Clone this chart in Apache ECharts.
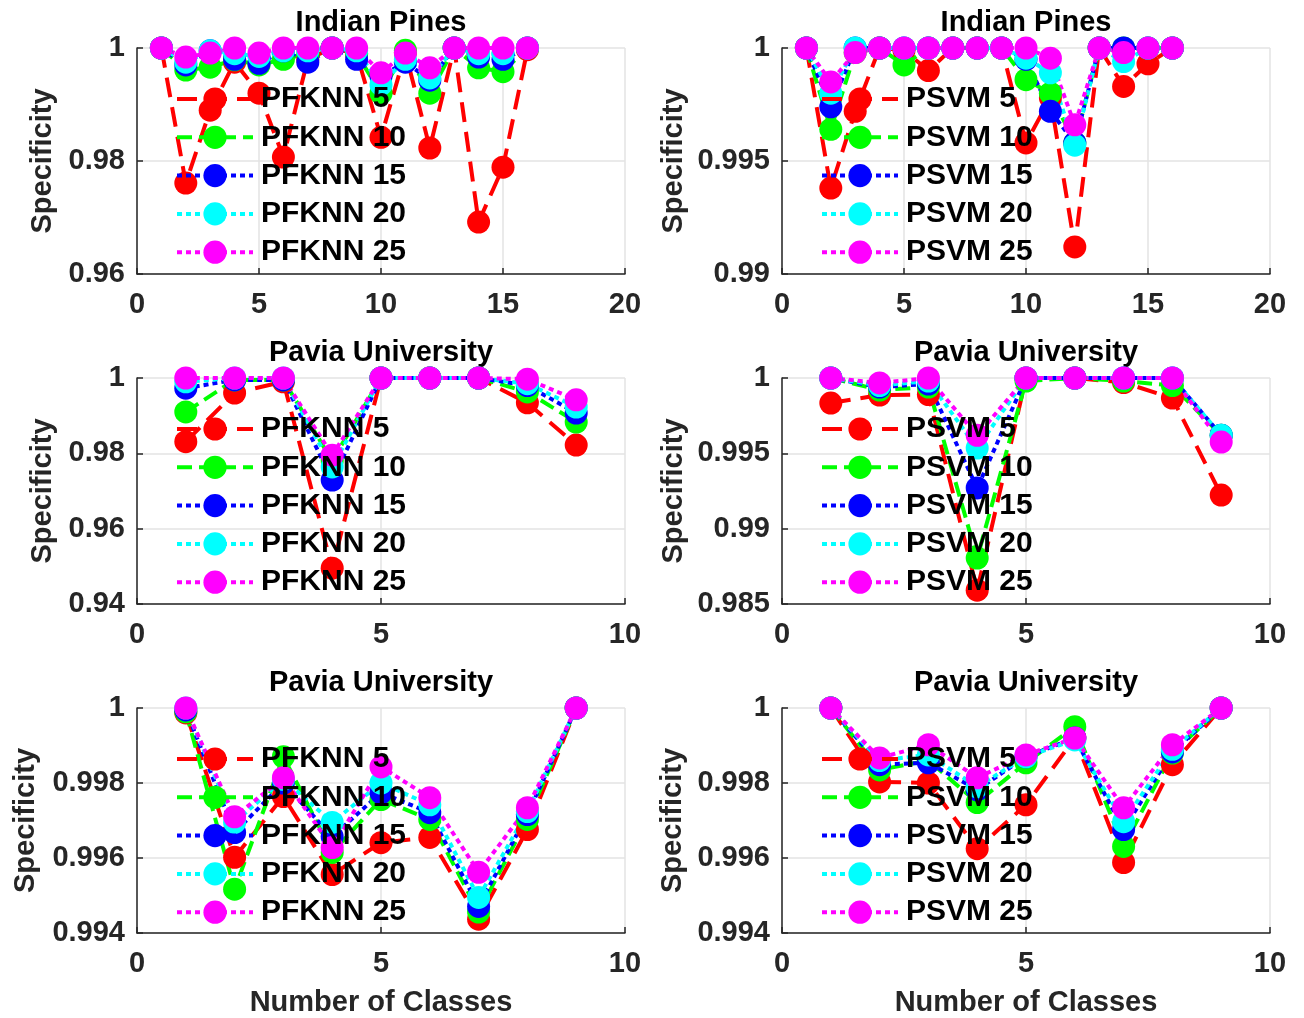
<!DOCTYPE html>
<html>
<head>
<meta charset="utf-8">
<script src="https://cdn.jsdelivr.net/npm/echarts@6/dist/echarts.min.js"></script>
<style>
  html, body { margin: 0; padding: 0; background: #fff; }
  #main { width: 1304px; height: 1018px; }
</style>
</head>
<body>
<div id="main"></div>
<script>
// x positions (number of classes)
const xIndian = [1, 2, 3, 4, 5, 6, 7, 8, 9, 10, 11, 12, 13, 14, 15, 16];
const xPavia = [1, 2, 3, 4, 5, 6, 7, 8, 9];

const knnNames = ['PFKNN 5', 'PFKNN 10', 'PFKNN 15', 'PFKNN 20', 'PFKNN 25'];
const svmNames = ['PSVM 5', 'PSVM 10', 'PSVM 15', 'PSVM 20', 'PSVM 25'];

// Indian Pines, PFKNN
const ipKnn5 = [1.0, 0.9761, 0.989, 0.9975, 0.992, 0.9807, 0.998, 1.0, 0.999, 0.9842, 0.9992, 0.9823, 1.0, 0.9692, 0.9789, 0.9997];
const ipKnn10 = [1.0, 0.9961, 0.9966, 0.9979, 0.997, 0.998, 0.999, 1.0, 0.999, 0.992, 0.9996, 0.992, 1.0, 0.9965, 0.9958, 1.0];
const ipKnn15 = [1.0, 0.997, 0.9995, 0.998, 0.9973, 0.9995, 0.9975, 1.0, 0.998, 0.995, 0.9975, 0.9943, 1.0, 0.9984, 0.998, 1.0];
const ipKnn20 = [1.0, 0.9975, 0.9995, 0.999, 0.9985, 0.9995, 0.9995, 1.0, 0.9995, 0.9935, 0.998, 0.9947, 1.0, 0.999, 0.999, 1.0];
const ipKnn25 = [1.0, 0.9984, 0.9991, 1.0, 0.9991, 1.0, 1.0, 1.0, 1.0, 0.9956, 0.9991, 0.9965, 1.0, 1.0, 1.0, 1.0];

// Indian Pines, PSVM
const ipSvm5 = [1.0, 0.9938, 0.9972, 1.0, 0.9999, 0.999, 1.0, 1.0, 1.0, 0.9958, 0.9978, 0.9912, 1.0, 0.9983, 0.9993, 1.0];
const ipSvm10 = [1.0, 0.9964, 0.9998, 1.0, 0.99925, 1.0, 1.0, 1.0, 1.0, 0.9986, 0.998, 0.9958, 1.0, 1.0, 1.0, 1.0];
const ipSvm15 = [1.0, 0.9974, 1.0, 1.0, 1.0, 1.0, 1.0, 1.0, 1.0, 0.9995, 0.9972, 0.9958, 1.0, 1.0, 1.0, 1.0];
const ipSvm20 = [1.0, 0.998, 1.0, 1.0, 1.0, 1.0, 1.0, 1.0, 1.0, 0.99955, 0.9989, 0.9957, 1.0, 0.9994, 1.0, 1.0];
const ipSvm25 = [1.0, 0.9985, 0.9998, 1.0, 1.0, 1.0, 1.0, 1.0, 1.0, 1.0, 0.99955, 0.9966, 1.0, 0.9998, 1.0, 1.0];

// Pavia University (middle row), PFKNN
const puKnn5 = [0.9831, 0.996, 0.999, 0.9495, 1.0, 1.0, 1.0, 0.9934, 0.9822];
const puKnn10 = [0.991, 0.9995, 0.9995, 0.978, 1.0, 1.0, 1.0, 0.9963, 0.9883];
const puKnn15 = [0.9973, 0.9995, 0.9995, 0.9729, 1.0, 1.0, 1.0, 0.998, 0.9907];
const puKnn20 = [0.999, 1.0, 1.0, 0.9764, 1.0, 1.0, 1.0, 0.9985, 0.9923];
const puKnn25 = [1.0, 1.0, 1.0, 0.9795, 1.0, 1.0, 1.0, 0.9997, 0.9942];

// Pavia University (middle row), PSVM
const puSvm5 = [0.99834, 0.99887, 0.9989, 0.98592, 1.0, 1.0, 0.9997, 0.99867, 0.99223];
const puSvm10 = [1.0, 0.9992, 0.9994, 0.98805, 0.9998, 1.0, 0.9998, 0.9995, 0.9962];
const puSvm15 = [1.0, 0.9994, 0.9996, 0.9927, 1.0, 1.0, 1.0, 1.0, 0.9962];
const puSvm20 = [1.0, 0.9995, 0.9998, 0.99535, 1.0, 1.0, 1.0, 1.0, 0.9962];
const puSvm25 = [1.0, 0.99967, 1.0, 0.9962, 1.0, 1.0, 1.0, 1.0, 0.99575];

// Pavia University (bottom row), PFKNN
const pu2Knn5 = [0.99987, 0.99602, 0.99764, 0.99556, 0.99641, 0.99655, 0.99437, 0.99676, 1.0];
const pu2Knn10 = [0.9999, 0.99517, 0.9987, 0.99615, 0.99756, 0.99703, 0.99456, 0.99703, 1.0];
const pu2Knn15 = [0.99995, 0.99668, 0.998, 0.99657, 0.99774, 0.99721, 0.99471, 0.99716, 1.0];
const pu2Knn20 = [1.0, 0.99695, 0.9981, 0.99695, 0.998, 0.99742, 0.99495, 0.99724, 1.0];
const pu2Knn25 = [1.0, 0.9971, 0.99814, 0.99628, 0.99843, 0.99761, 0.99562, 0.99734, 1.0];

// Pavia University (bottom row), PSVM
const pu2Svm5 = [1.0, 0.99803, 0.998, 0.99625, 0.99742, 0.9992, 0.99588, 0.99849, 1.0];
const pu2Svm10 = [1.0, 0.99835, 0.9986, 0.99748, 0.99854, 0.9995, 0.99631, 0.9988, 1.0];
const pu2Svm15 = [1.0, 0.99849, 0.99854, 0.99782, 0.9987, 0.9992, 0.99676, 0.99883, 1.0];
const pu2Svm20 = [1.0, 0.9986, 0.99875, 0.9979, 0.9987, 0.99915, 0.99697, 0.9989, 1.0];
const pu2Svm25 = [1.0, 0.99867, 0.99902, 0.99814, 0.99875, 0.9992, 0.99734, 0.99902, 1.0];

const colors = ['#ff0000', '#00ff00', '#0000ff', '#00ffff', '#ff00ff'];
const dashes = [[20, 10], [15, 7], [5, 4], [5, 4], [5, 4]];

const FONT = 'Liberation Sans, Arial, sans-serif';
const W = 488, H = 226;

const panels = [
  { title: 'Indian Pines', left: 137, top: 48, x: xIndian, xMax: 20, yMin: 0.96, yStep: 0.02, names: knnNames,
    values: [ipKnn5, ipKnn10, ipKnn15, ipKnn20, ipKnn25], nameGap: 80 },
  { title: 'Indian Pines', left: 782, top: 48, x: xIndian, xMax: 20, yMin: 0.99, yStep: 0.005, names: svmNames,
    values: [ipSvm5, ipSvm10, ipSvm15, ipSvm20, ipSvm25], nameGap: 94 },
  { title: 'Pavia University', left: 137, top: 378, x: xPavia, xMax: 10, yMin: 0.94, yStep: 0.02, names: knnNames,
    values: [puKnn5, puKnn10, puKnn15, puKnn20, puKnn25], nameGap: 80 },
  { title: 'Pavia University', left: 782, top: 378, x: xPavia, xMax: 10, yMin: 0.985, yStep: 0.005, names: svmNames,
    values: [puSvm5, puSvm10, puSvm15, puSvm20, puSvm25], nameGap: 94 },
  { title: 'Pavia University', left: 137, top: 708, x: xPavia, xMax: 10, yMin: 0.994, yStep: 0.002, names: knnNames,
    values: [pu2Knn5, pu2Knn10, pu2Knn15, pu2Knn20, pu2Knn25], nameGap: 97, bottom: true },
  { title: 'Pavia University', left: 782, top: 708, x: xPavia, xMax: 10, yMin: 0.994, yStep: 0.002, names: svmNames,
    values: [pu2Svm5, pu2Svm10, pu2Svm15, pu2Svm20, pu2Svm25], nameGap: 95, bottom: true }
];

const axisColor = '#262626';
const labelStyle = { color: '#262626', fontFamily: FONT, fontWeight: 'bold', fontSize: 29 };
const fmt = (v) => String(+v.toFixed(4));

const grid = [], xAxis = [], yAxis = [], series = [], legend = [], graphic = [];

panels.forEach((p, i) => {
  grid.push({ left: p.left, top: p.top, width: W, height: H, containLabel: false });
  xAxis.push({
    type: 'value', gridIndex: i, min: 0, max: p.xMax, interval: 5,
    name: p.bottom ? 'Number of Classes' : '',
    nameLocation: 'middle', nameGap: 55,
    nameTextStyle: { color: '#262626', fontFamily: FONT, fontWeight: 'bold', fontSize: 29 },
    axisLine: { lineStyle: { color: axisColor, width: 1.5 } },
    axisTick: { inside: true, length: 6, lineStyle: { color: axisColor, width: 1.5 } },
    axisLabel: Object.assign({ margin: 16, formatter: fmt }, labelStyle),
    splitLine: { show: true, lineStyle: { color: '#e3e3e3', width: 1.5 } }
  });
  yAxis.push({
    type: 'value', gridIndex: i, min: p.yMin, max: 1, interval: p.yStep,
    name: 'Specificity', nameLocation: 'middle', nameGap: p.nameGap, nameRotate: 90,
    nameTextStyle: { color: '#262626', fontFamily: FONT, fontWeight: 'bold', fontSize: 29 },
    axisLine: { show: true, lineStyle: { color: axisColor, width: 1.5 } },
    axisTick: { show: true, inside: true, length: 6, lineStyle: { color: axisColor, width: 1.5 } },
    axisLabel: Object.assign({ margin: 12, formatter: fmt }, labelStyle),
    splitLine: { show: true, lineStyle: { color: '#e3e3e3', width: 1.5 } }
  });
  p.values.forEach((vals, k) => {
    series.push({
      name: p.names[k], type: 'line', xAxisIndex: i, yAxisIndex: i,
      data: p.x.map((x, j) => [x, vals[j]]),
      symbol: 'circle', symbolSize: 23, clip: false, animation: false,
      itemStyle: { color: colors[k] },
      lineStyle: { color: colors[k], width: 4, type: dashes[k] },
      emphasis: { disabled: true }
    });
  });
  legend.push({
    data: p.names, orient: 'vertical', left: p.left + 33, top: p.top + 31,
    itemWidth: 76, itemHeight: 29, itemGap: 8.3,
    lineStyle: { width: 4 },
    textStyle: { color: '#000', fontFamily: FONT, fontWeight: 'bold', fontSize: 30, lineHeight: 29, padding: [0, 0, 0, 3] },
    backgroundColor: 'transparent', selectedMode: false
  });
  graphic.push({
    type: 'text', x: p.left + W / 2, y: p.top - 25, silent: true,
    style: { text: p.title, font: 'bold 29px ' + FONT, fill: '#000', align: 'center', verticalAlign: 'middle' }
  });
});

const myChart = echarts.init(document.getElementById('main'), null, { renderer: 'canvas' });
const option = {
  backgroundColor: '#fff',
  animation: false,
  grid, xAxis, yAxis, series, legend, graphic
};
option && myChart.setOption(option);
</script>
</body>
</html>
